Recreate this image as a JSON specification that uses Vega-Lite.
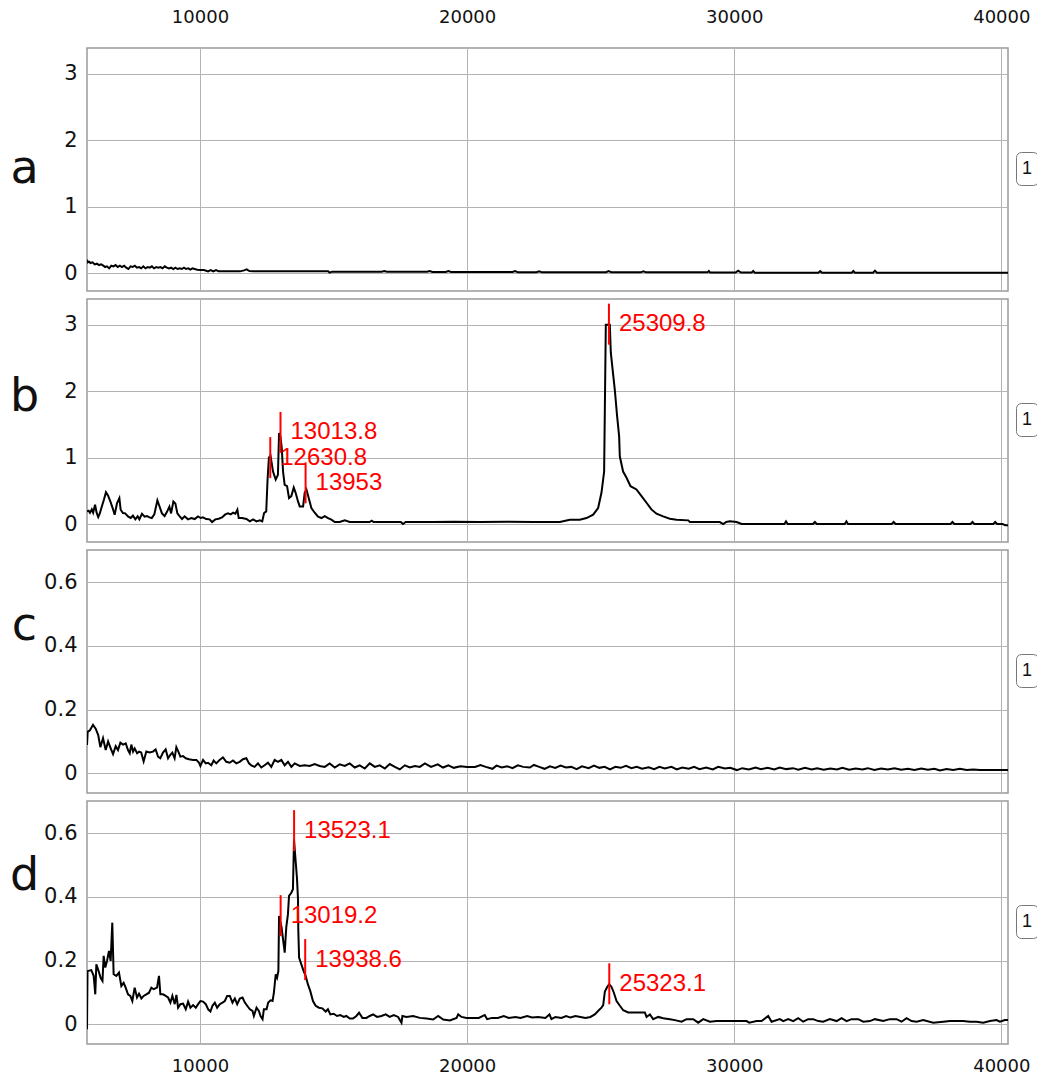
{
"$schema": "https://vega.github.io/schema/vega-lite/v6.json",
"padding": {"left": 8, "top": 7, "right": 0, "bottom": 0},
"spacing": 6,
"config": {
  "view": {"stroke": "#9a9a9a", "strokeWidth": 1.5},
  "font": "Liberation Sans",
  "axis": {"gridColor": "#b3b3b3", "gridWidth": 1, "gridOpacity": 1, "labelColor": "#111", "labelFont": "DejaVu Sans", "ticks": false, "tickSize": 0, "domain": false},
  "legend": {"orient": "none", "legendX": 929, "legendY": 104, "title": null, "labelFontSize": 18, "labelFont": "Liberation Sans", "labelColor": "#111", "symbolType": "M-0.6,-1L-0.6,1", "symbolOpacity": 0, "symbolSize": 500, "symbolStrokeWidth": 0, "labelOffset": -22, "padding": 5, "strokeColor": "#777", "cornerRadius": 5, "fillColor": "white"}
},
"datasets": {
  "a": [{"mz":5770,"v":0.2},{"mz":5800,"v":0.16},{"mz":5850,"v":0.17},{"mz":5900,"v":0.15},{"mz":5980,"v":0.16},{"mz":6060,"v":0.13},{"mz":6140,"v":0.14},{"mz":6220,"v":0.12},{"mz":6300,"v":0.13},{"mz":6380,"v":0.11},{"mz":6450,"v":0.09},{"mz":6520,"v":0.1},{"mz":6600,"v":0.07},{"mz":6680,"v":0.11},{"mz":6760,"v":0.1},{"mz":6840,"v":0.12},{"mz":6920,"v":0.09},{"mz":7000,"v":0.11},{"mz":7080,"v":0.09},{"mz":7160,"v":0.11},{"mz":7240,"v":0.08},{"mz":7320,"v":0.06},{"mz":7400,"v":0.1},{"mz":7480,"v":0.09},{"mz":7560,"v":0.11},{"mz":7640,"v":0.08},{"mz":7720,"v":0.09},{"mz":7800,"v":0.07},{"mz":7880,"v":0.1},{"mz":7960,"v":0.07},{"mz":8040,"v":0.09},{"mz":8120,"v":0.08},{"mz":8200,"v":0.1},{"mz":8280,"v":0.07},{"mz":8360,"v":0.09},{"mz":8440,"v":0.08},{"mz":8520,"v":0.09},{"mz":8600,"v":0.07},{"mz":8680,"v":0.1},{"mz":8760,"v":0.08},{"mz":8840,"v":0.07},{"mz":8920,"v":0.08},{"mz":9000,"v":0.06},{"mz":9080,"v":0.08},{"mz":9160,"v":0.06},{"mz":9240,"v":0.07},{"mz":9320,"v":0.06},{"mz":9400,"v":0.08},{"mz":9480,"v":0.06},{"mz":9560,"v":0.07},{"mz":9640,"v":0.05},{"mz":9720,"v":0.07},{"mz":9800,"v":0.06},{"mz":9900,"v":0.05},{"mz":10000,"v":0.045},{"mz":10150,"v":0.045},{"mz":10300,"v":0.025},{"mz":10400,"v":0.045},{"mz":10500,"v":0.025},{"mz":10600,"v":0.045},{"mz":10700,"v":0.025},{"mz":10900,"v":0.025},{"mz":11200,"v":0.025},{"mz":11500,"v":0.025},{"mz":11650,"v":0.04},{"mz":11750,"v":0.055},{"mz":11850,"v":0.03},{"mz":12000,"v":0.025},{"mz":13000,"v":0.025},{"mz":14000,"v":0.025},{"mz":14800,"v":0.025},{"mz":14850,"v":0.005},{"mz":14950,"v":0.02},{"mz":15500,"v":0.02},{"mz":16800,"v":0.02},{"mz":16900,"v":0.03},{"mz":17000,"v":0.02},{"mz":18500,"v":0.02},{"mz":18600,"v":0.03},{"mz":18700,"v":0.015},{"mz":19200,"v":0.015},{"mz":19300,"v":0.03},{"mz":19400,"v":0.015},{"mz":20000,"v":0.015},{"mz":21000,"v":0.015},{"mz":21700,"v":0.015},{"mz":21800,"v":0.03},{"mz":21900,"v":0.01},{"mz":22600,"v":0.012},{"mz":22700,"v":0.025},{"mz":22800,"v":0.01},{"mz":24000,"v":0.012},{"mz":25200,"v":0.012},{"mz":25300,"v":0.03},{"mz":25400,"v":0.01},{"mz":26500,"v":0.01},{"mz":26600,"v":0.025},{"mz":26700,"v":0.01},{"mz":28000,"v":0.01},{"mz":29000,"v":0.01},{"mz":29050,"v":0.03},{"mz":29100,"v":0.006},{"mz":30050,"v":0.006},{"mz":30150,"v":0.035},{"mz":30250,"v":0.006},{"mz":30650,"v":0.006},{"mz":30710,"v":0.03},{"mz":30770,"v":0.005},{"mz":33150,"v":0.005},{"mz":33220,"v":0.03},{"mz":33290,"v":0.005},{"mz":34400,"v":0.005},{"mz":34460,"v":0.03},{"mz":34520,"v":0.005},{"mz":35200,"v":0.005},{"mz":35270,"v":0.035},{"mz":35340,"v":0.005},{"mz":40250,"v":0.005}],
  "b": [{"mz":5770,"v":0.19},{"mz":5830,"v":0.2},{"mz":5880,"v":0.17},{"mz":5950,"v":0.22},{"mz":6000,"v":0.17},{"mz":6072,"v":0.29},{"mz":6130,"v":0.17},{"mz":6190,"v":0.105},{"mz":6250,"v":0.16},{"mz":6300,"v":0.23},{"mz":6405,"v":0.37},{"mz":6480,"v":0.48},{"mz":6555,"v":0.43},{"mz":6644,"v":0.34},{"mz":6730,"v":0.24},{"mz":6805,"v":0.14},{"mz":6892,"v":0.31},{"mz":6982,"v":0.39},{"mz":7030,"v":0.215},{"mz":7116,"v":0.165},{"mz":7200,"v":0.16},{"mz":7304,"v":0.115},{"mz":7405,"v":0.09},{"mz":7490,"v":0.125},{"mz":7580,"v":0.07},{"mz":7665,"v":0.115},{"mz":7730,"v":0.07},{"mz":7828,"v":0.155},{"mz":7925,"v":0.11},{"mz":8015,"v":0.12},{"mz":8110,"v":0.1},{"mz":8195,"v":0.09},{"mz":8290,"v":0.145},{"mz":8405,"v":0.355},{"mz":8490,"v":0.26},{"mz":8575,"v":0.16},{"mz":8675,"v":0.12},{"mz":8760,"v":0.18},{"mz":8855,"v":0.26},{"mz":8918,"v":0.16},{"mz":9004,"v":0.34},{"mz":9078,"v":0.31},{"mz":9153,"v":0.16},{"mz":9240,"v":0.115},{"mz":9328,"v":0.075},{"mz":9425,"v":0.115},{"mz":9550,"v":0.07},{"mz":9675,"v":0.09},{"mz":9800,"v":0.075},{"mz":9925,"v":0.115},{"mz":10025,"v":0.09},{"mz":10110,"v":0.1},{"mz":10235,"v":0.075},{"mz":10360,"v":0.07},{"mz":10450,"v":0.03},{"mz":10575,"v":0.07},{"mz":10700,"v":0.08},{"mz":10825,"v":0.1},{"mz":10950,"v":0.145},{"mz":11050,"v":0.16},{"mz":11150,"v":0.145},{"mz":11240,"v":0.17},{"mz":11325,"v":0.155},{"mz":11400,"v":0.215},{"mz":11450,"v":0.09},{"mz":11575,"v":0.09},{"mz":11740,"v":0.075},{"mz":11865,"v":0.04},{"mz":11990,"v":0.07},{"mz":12115,"v":0.04},{"mz":12240,"v":0.055},{"mz":12330,"v":0.04},{"mz":12400,"v":0.165},{"mz":12480,"v":0.19},{"mz":12530,"v":0.67},{"mz":12580,"v":1.0},{"mz":12640,"v":1.03},{"mz":12734,"v":0.79},{"mz":12835,"v":0.67},{"mz":12918,"v":0.74},{"mz":12960,"v":1.37},{"mz":13010,"v":1.32},{"mz":13060,"v":1.15},{"mz":13110,"v":0.79},{"mz":13170,"v":0.59},{"mz":13260,"v":0.57},{"mz":13333,"v":0.39},{"mz":13420,"v":0.42},{"mz":13510,"v":0.55},{"mz":13580,"v":0.47},{"mz":13670,"v":0.34},{"mz":13734,"v":0.265},{"mz":13860,"v":0.265},{"mz":13920,"v":0.47},{"mz":13985,"v":0.52},{"mz":14085,"v":0.37},{"mz":14170,"v":0.24},{"mz":14295,"v":0.17},{"mz":14420,"v":0.11},{"mz":14545,"v":0.09},{"mz":14670,"v":0.12},{"mz":14795,"v":0.09},{"mz":14920,"v":0.065},{"mz":15045,"v":0.03},{"mz":15230,"v":0.03},{"mz":15420,"v":0.055},{"mz":15605,"v":0.03},{"mz":16350,"v":0.03},{"mz":16430,"v":0.05},{"mz":16500,"v":0.03},{"mz":17520,"v":0.03},{"mz":17600,"v":0.0},{"mz":17700,"v":0.03},{"mz":18700,"v":0.03},{"mz":19500,"v":0.035},{"mz":20500,"v":0.03},{"mz":21500,"v":0.035},{"mz":22500,"v":0.03},{"mz":23471,"v":0.03},{"mz":23845,"v":0.065},{"mz":24220,"v":0.065},{"mz":24470,"v":0.09},{"mz":24720,"v":0.14},{"mz":24905,"v":0.24},{"mz":25030,"v":0.47},{"mz":25130,"v":0.79},{"mz":25193,"v":3.0},{"mz":25343,"v":3.0},{"mz":25380,"v":2.58},{"mz":25530,"v":2.02},{"mz":25617,"v":1.62},{"mz":25692,"v":1.32},{"mz":25717,"v":1.02},{"mz":25840,"v":0.79},{"mz":25965,"v":0.7},{"mz":26118,"v":0.57},{"mz":26340,"v":0.52},{"mz":26530,"v":0.42},{"mz":26717,"v":0.32},{"mz":26900,"v":0.22},{"mz":27090,"v":0.155},{"mz":27340,"v":0.115},{"mz":27590,"v":0.08},{"mz":27840,"v":0.065},{"mz":28280,"v":0.055},{"mz":28340,"v":0.03},{"mz":29460,"v":0.03},{"mz":29590,"v":0.0},{"mz":29700,"v":0.03},{"mz":29840,"v":0.04},{"mz":30090,"v":0.03},{"mz":30280,"v":0.0},{"mz":31880,"v":0.0},{"mz":31940,"v":0.04},{"mz":32000,"v":0.0},{"mz":32950,"v":0.0},{"mz":33020,"v":0.03},{"mz":33090,"v":0.0},{"mz":34140,"v":0.0},{"mz":34200,"v":0.04},{"mz":34260,"v":0.0},{"mz":35900,"v":0.0},{"mz":35970,"v":0.03},{"mz":36040,"v":0.0},{"mz":38100,"v":0.0},{"mz":38170,"v":0.03},{"mz":38240,"v":0.0},{"mz":38850,"v":0.0},{"mz":38920,"v":0.03},{"mz":38990,"v":0.0},{"mz":39700,"v":0.0},{"mz":39770,"v":0.03},{"mz":39840,"v":0.0},{"mz":40050,"v":0.0},{"mz":40150,"v":-0.02},{"mz":40250,"v":-0.02}],
  "c": [{"mz":5770,"v":0.089},{"mz":5795,"v":0.13},{"mz":5880,"v":0.135},{"mz":5995,"v":0.152},{"mz":6095,"v":0.14},{"mz":6190,"v":0.12},{"mz":6270,"v":0.082},{"mz":6370,"v":0.11},{"mz":6470,"v":0.073},{"mz":6560,"v":0.1},{"mz":6650,"v":0.08},{"mz":6745,"v":0.06},{"mz":6845,"v":0.085},{"mz":6930,"v":0.073},{"mz":7020,"v":0.096},{"mz":7120,"v":0.09},{"mz":7220,"v":0.094},{"mz":7305,"v":0.073},{"mz":7370,"v":0.063},{"mz":7430,"v":0.09},{"mz":7495,"v":0.068},{"mz":7555,"v":0.078},{"mz":7645,"v":0.063},{"mz":7720,"v":0.068},{"mz":7800,"v":0.065},{"mz":7890,"v":0.037},{"mz":7990,"v":0.068},{"mz":8115,"v":0.065},{"mz":8240,"v":0.068},{"mz":8340,"v":0.075},{"mz":8430,"v":0.052},{"mz":8515,"v":0.047},{"mz":8615,"v":0.065},{"mz":8715,"v":0.075},{"mz":8805,"v":0.047},{"mz":8890,"v":0.058},{"mz":8965,"v":0.065},{"mz":9050,"v":0.047},{"mz":9115,"v":0.082},{"mz":9190,"v":0.068},{"mz":9265,"v":0.052},{"mz":9365,"v":0.054},{"mz":9465,"v":0.047},{"mz":9590,"v":0.044},{"mz":9740,"v":0.042},{"mz":9865,"v":0.042},{"mz":9965,"v":0.033},{"mz":10015,"v":0.023},{"mz":10115,"v":0.042},{"mz":10215,"v":0.031},{"mz":10300,"v":0.033},{"mz":10425,"v":0.025},{"mz":10510,"v":0.04},{"mz":10610,"v":0.031},{"mz":10735,"v":0.042},{"mz":10860,"v":0.05},{"mz":10985,"v":0.036},{"mz":11110,"v":0.033},{"mz":11235,"v":0.04},{"mz":11360,"v":0.031},{"mz":11485,"v":0.036},{"mz":11610,"v":0.044},{"mz":11735,"v":0.047},{"mz":11835,"v":0.031},{"mz":11920,"v":0.025},{"mz":12045,"v":0.02},{"mz":12170,"v":0.031},{"mz":12295,"v":0.018},{"mz":12420,"v":0.025},{"mz":12545,"v":0.033},{"mz":12670,"v":0.02},{"mz":12795,"v":0.042},{"mz":12920,"v":0.036},{"mz":13045,"v":0.042},{"mz":13170,"v":0.025},{"mz":13295,"v":0.036},{"mz":13420,"v":0.02},{"mz":13545,"v":0.031},{"mz":13735,"v":0.023},{"mz":13920,"v":0.025},{"mz":14105,"v":0.023},{"mz":14295,"v":0.029},{"mz":14480,"v":0.023},{"mz":14670,"v":0.02},{"mz":14855,"v":0.031},{"mz":15045,"v":0.018},{"mz":15230,"v":0.028},{"mz":15420,"v":0.023},{"mz":15605,"v":0.031},{"mz":15795,"v":0.018},{"mz":15980,"v":0.025},{"mz":16170,"v":0.015},{"mz":16355,"v":0.031},{"mz":16545,"v":0.02},{"mz":16730,"v":0.025},{"mz":16920,"v":0.015},{"mz":17105,"v":0.029},{"mz":17295,"v":0.02},{"mz":17480,"v":0.012},{"mz":17670,"v":0.025},{"mz":17855,"v":0.018},{"mz":18045,"v":0.023},{"mz":18230,"v":0.02},{"mz":18420,"v":0.031},{"mz":18650,"v":0.02},{"mz":18900,"v":0.028},{"mz":19100,"v":0.018},{"mz":19300,"v":0.025},{"mz":19500,"v":0.017},{"mz":19750,"v":0.022},{"mz":20000,"v":0.02},{"mz":20300,"v":0.02},{"mz":20500,"v":0.026},{"mz":20700,"v":0.02},{"mz":20950,"v":0.014},{"mz":21100,"v":0.024},{"mz":21300,"v":0.018},{"mz":21500,"v":0.022},{"mz":21700,"v":0.016},{"mz":21900,"v":0.025},{"mz":22100,"v":0.02},{"mz":22350,"v":0.018},{"mz":22500,"v":0.026},{"mz":22700,"v":0.02},{"mz":22900,"v":0.014},{"mz":23100,"v":0.022},{"mz":23300,"v":0.017},{"mz":23500,"v":0.024},{"mz":23700,"v":0.018},{"mz":23900,"v":0.02},{"mz":24100,"v":0.013},{"mz":24300,"v":0.022},{"mz":24550,"v":0.016},{"mz":24750,"v":0.024},{"mz":24950,"v":0.017},{"mz":25150,"v":0.02},{"mz":25350,"v":0.012},{"mz":25550,"v":0.02},{"mz":25750,"v":0.017},{"mz":25950,"v":0.023},{"mz":26150,"v":0.016},{"mz":26350,"v":0.02},{"mz":26550,"v":0.014},{"mz":26800,"v":0.019},{"mz":27000,"v":0.013},{"mz":27200,"v":0.02},{"mz":27400,"v":0.015},{"mz":27650,"v":0.02},{"mz":27850,"v":0.012},{"mz":28050,"v":0.018},{"mz":28300,"v":0.014},{"mz":28500,"v":0.02},{"mz":28700,"v":0.013},{"mz":28950,"v":0.018},{"mz":29200,"v":0.012},{"mz":29400,"v":0.02},{"mz":29650,"v":0.015},{"mz":29850,"v":0.017},{"mz":30100,"v":0.01},{"mz":30300,"v":0.016},{"mz":30550,"v":0.012},{"mz":30800,"v":0.018},{"mz":31000,"v":0.013},{"mz":31250,"v":0.017},{"mz":31500,"v":0.012},{"mz":31700,"v":0.018},{"mz":31950,"v":0.013},{"mz":32200,"v":0.016},{"mz":32400,"v":0.011},{"mz":32650,"v":0.017},{"mz":32900,"v":0.012},{"mz":33100,"v":0.016},{"mz":33350,"v":0.011},{"mz":33600,"v":0.015},{"mz":33850,"v":0.012},{"mz":34050,"v":0.017},{"mz":34300,"v":0.011},{"mz":34550,"v":0.015},{"mz":34800,"v":0.012},{"mz":35000,"v":0.016},{"mz":35250,"v":0.01},{"mz":35500,"v":0.015},{"mz":35750,"v":0.012},{"mz":36000,"v":0.016},{"mz":36250,"v":0.011},{"mz":36500,"v":0.014},{"mz":36750,"v":0.01},{"mz":37000,"v":0.015},{"mz":37250,"v":0.011},{"mz":37500,"v":0.014},{"mz":37700,"v":0.009},{"mz":37950,"v":0.013},{"mz":38200,"v":0.01},{"mz":38450,"v":0.014},{"mz":38700,"v":0.01},{"mz":38950,"v":0.012},{"mz":39200,"v":0.01},{"mz":39500,"v":0.01},{"mz":39800,"v":0.01},{"mz":40250,"v":0.01}],
  "d": [{"mz":5770,"v":-0.016},{"mz":5790,"v":0.167},{"mz":5930,"v":0.17},{"mz":6020,"v":0.152},{"mz":6080,"v":0.094},{"mz":6120,"v":0.188},{"mz":6205,"v":0.167},{"mz":6280,"v":0.146},{"mz":6350,"v":0.136},{"mz":6394,"v":0.215},{"mz":6455,"v":0.178},{"mz":6520,"v":0.199},{"mz":6592,"v":0.23},{"mz":6655,"v":0.199},{"mz":6717,"v":0.319},{"mz":6767,"v":0.157},{"mz":6867,"v":0.152},{"mz":6967,"v":0.162},{"mz":7055,"v":0.12},{"mz":7142,"v":0.13},{"mz":7217,"v":0.115},{"mz":7305,"v":0.094},{"mz":7392,"v":0.089},{"mz":7467,"v":0.073},{"mz":7555,"v":0.115},{"mz":7642,"v":0.084},{"mz":7717,"v":0.096},{"mz":7805,"v":0.081},{"mz":7892,"v":0.089},{"mz":7992,"v":0.094},{"mz":8092,"v":0.099},{"mz":8180,"v":0.115},{"mz":8267,"v":0.11},{"mz":8392,"v":0.115},{"mz":8465,"v":0.152},{"mz":8517,"v":0.094},{"mz":8617,"v":0.094},{"mz":8717,"v":0.089},{"mz":8805,"v":0.084},{"mz":8892,"v":0.068},{"mz":8967,"v":0.089},{"mz":9055,"v":0.063},{"mz":9117,"v":0.092},{"mz":9180,"v":0.052},{"mz":9267,"v":0.063},{"mz":9367,"v":0.065},{"mz":9467,"v":0.047},{"mz":9555,"v":0.071},{"mz":9642,"v":0.052},{"mz":9742,"v":0.06},{"mz":9842,"v":0.052},{"mz":9930,"v":0.063},{"mz":10017,"v":0.073},{"mz":10117,"v":0.071},{"mz":10217,"v":0.063},{"mz":10305,"v":0.047},{"mz":10392,"v":0.04},{"mz":10467,"v":0.058},{"mz":10555,"v":0.068},{"mz":10642,"v":0.052},{"mz":10742,"v":0.063},{"mz":10842,"v":0.068},{"mz":10930,"v":0.073},{"mz":11017,"v":0.089},{"mz":11117,"v":0.089},{"mz":11217,"v":0.068},{"mz":11305,"v":0.081},{"mz":11392,"v":0.063},{"mz":11492,"v":0.081},{"mz":11592,"v":0.084},{"mz":11680,"v":0.068},{"mz":11767,"v":0.058},{"mz":11867,"v":0.047},{"mz":11967,"v":0.042},{"mz":12017,"v":0.026},{"mz":12117,"v":0.052},{"mz":12205,"v":0.042},{"mz":12267,"v":0.026},{"mz":12342,"v":0.016},{"mz":12392,"v":0.047},{"mz":12492,"v":0.047},{"mz":12555,"v":0.068},{"mz":12642,"v":0.075},{"mz":12717,"v":0.073},{"mz":12767,"v":0.099},{"mz":12835,"v":0.157},{"mz":12885,"v":0.146},{"mz":12935,"v":0.167},{"mz":12960,"v":0.34},{"mz":13055,"v":0.304},{"mz":13117,"v":0.262},{"mz":13172,"v":0.225},{"mz":13230,"v":0.304},{"mz":13292,"v":0.345},{"mz":13333,"v":0.403},{"mz":13420,"v":0.413},{"mz":13480,"v":0.424},{"mz":13520,"v":0.58},{"mz":13546,"v":0.55},{"mz":13630,"v":0.46},{"mz":13670,"v":0.392},{"mz":13680,"v":0.298},{"mz":13710,"v":0.209},{"mz":13795,"v":0.188},{"mz":13880,"v":0.167},{"mz":13955,"v":0.152},{"mz":14042,"v":0.125},{"mz":14130,"v":0.104},{"mz":14230,"v":0.073},{"mz":14330,"v":0.058},{"mz":14455,"v":0.052},{"mz":14580,"v":0.05},{"mz":14705,"v":0.04},{"mz":14790,"v":0.047},{"mz":14880,"v":0.031},{"mz":15005,"v":0.033},{"mz":15130,"v":0.026},{"mz":15255,"v":0.029},{"mz":15380,"v":0.023},{"mz":15480,"v":0.026},{"mz":15605,"v":0.018},{"mz":15730,"v":0.018},{"mz":15855,"v":0.026},{"mz":15955,"v":0.036},{"mz":16080,"v":0.02},{"mz":16230,"v":0.02},{"mz":16355,"v":0.026},{"mz":16480,"v":0.031},{"mz":16630,"v":0.023},{"mz":16793,"v":0.026},{"mz":16955,"v":0.031},{"mz":17105,"v":0.023},{"mz":17255,"v":0.029},{"mz":17418,"v":0.023},{"mz":17543,"v":0.005},{"mz":17580,"v":0.026},{"mz":17730,"v":0.023},{"mz":17980,"v":0.026},{"mz":18230,"v":0.02},{"mz":18480,"v":0.018},{"mz":18730,"v":0.015},{"mz":18917,"v":0.026},{"mz":19105,"v":0.015},{"mz":19355,"v":0.012},{"mz":19605,"v":0.02},{"mz":19667,"v":0.031},{"mz":19792,"v":0.023},{"mz":19980,"v":0.02},{"mz":20187,"v":0.02},{"mz":20437,"v":0.02},{"mz":20660,"v":0.029},{"mz":20750,"v":0.016},{"mz":20936,"v":0.02},{"mz":21150,"v":0.02},{"mz":21373,"v":0.026},{"mz":21560,"v":0.02},{"mz":21810,"v":0.023},{"mz":22000,"v":0.02},{"mz":22246,"v":0.026},{"mz":22434,"v":0.021},{"mz":22658,"v":0.023},{"mz":22933,"v":0.02},{"mz":23083,"v":0.031},{"mz":23158,"v":0.016},{"mz":23307,"v":0.023},{"mz":23532,"v":0.02},{"mz":23707,"v":0.026},{"mz":23870,"v":0.021},{"mz":24056,"v":0.026},{"mz":24243,"v":0.023},{"mz":24430,"v":0.02},{"mz":24618,"v":0.023},{"mz":24780,"v":0.031},{"mz":24930,"v":0.044},{"mz":25030,"v":0.052},{"mz":25095,"v":0.06},{"mz":25158,"v":0.103},{"mz":25245,"v":0.117},{"mz":25320,"v":0.126},{"mz":25407,"v":0.117},{"mz":25495,"v":0.099},{"mz":25595,"v":0.073},{"mz":25720,"v":0.058},{"mz":25844,"v":0.044},{"mz":26031,"v":0.037},{"mz":26468,"v":0.037},{"mz":26655,"v":0.037},{"mz":26718,"v":0.023},{"mz":26843,"v":0.031},{"mz":26967,"v":0.016},{"mz":27155,"v":0.023},{"mz":27342,"v":0.019},{"mz":27592,"v":0.016},{"mz":27779,"v":0.013},{"mz":28029,"v":0.008},{"mz":28216,"v":0.016},{"mz":28466,"v":0.016},{"mz":28653,"v":0.005},{"mz":28840,"v":0.016},{"mz":29090,"v":0.008},{"mz":29339,"v":0.01},{"mz":29713,"v":0.01},{"mz":30087,"v":0.01},{"mz":30462,"v":0.01},{"mz":30562,"v":0.005},{"mz":30836,"v":0.01},{"mz":31023,"v":0.01},{"mz":31273,"v":0.026},{"mz":31398,"v":0.008},{"mz":31710,"v":0.016},{"mz":31835,"v":0.01},{"mz":32022,"v":0.016},{"mz":32209,"v":0.01},{"mz":32396,"v":0.019},{"mz":32583,"v":0.008},{"mz":32770,"v":0.016},{"mz":32958,"v":0.016},{"mz":33145,"v":0.01},{"mz":33332,"v":0.008},{"mz":33582,"v":0.016},{"mz":33831,"v":0.01},{"mz":34019,"v":0.019},{"mz":34206,"v":0.01},{"mz":34393,"v":0.016},{"mz":34643,"v":0.016},{"mz":34830,"v":0.008},{"mz":35079,"v":0.01},{"mz":35266,"v":0.016},{"mz":35578,"v":0.01},{"mz":35828,"v":0.016},{"mz":36078,"v":0.016},{"mz":36265,"v":0.008},{"mz":36452,"v":0.019},{"mz":36640,"v":0.01},{"mz":36827,"v":0.008},{"mz":37076,"v":0.013},{"mz":37451,"v":0.005},{"mz":37825,"v":0.008},{"mz":38075,"v":0.01},{"mz":38574,"v":0.01},{"mz":38824,"v":0.008},{"mz":39073,"v":0.008},{"mz":39323,"v":0.005},{"mz":39573,"v":0.01},{"mz":39822,"v":0.013},{"mz":39947,"v":0.008},{"mz":40134,"v":0.013},{"mz":40250,"v":0.013}],
  "pb": [{"mz":12630.8,"v":1.0,"label":"12630.8"},{"mz":13013.8,"v":1.38,"label":"13013.8"},{"mz":13953,"v":0.62,"label":"13953"},{"mz":25309.8,"v":3.01,"label":"25309.8"}],
  "pd": [{"mz":13019.2,"v":0.341,"label":"13019.2"},{"mz":13523.1,"v":0.608,"label":"13523.1"},{"mz":13938.6,"v":0.203,"label":"13938.6"},{"mz":25323.1,"v":0.127,"label":"25323.1"}]
},
"vconcat": [
  {
    "width": 921, "height": 243,
    "data": {"name": "a"},
    "mark": {"type": "line", "strokeWidth": 2, "clip": true},
    "encoding": {
      "x": {"field": "mz", "type": "quantitative", "scale": {"domain": [5770, 40250], "nice": false, "zero": false}, "axis": {"orient": "top", "values": [10000, 20000, 30000, 40000], "format": "d", "title": null, "labelFontSize": 18, "labelPadding": 22, "grid": true}},
      "y": {"field": "v", "type": "quantitative", "scale": {"domain": [-0.271, 3.389], "nice": false, "zero": false}, "axis": {"values": [0, 1, 2, 3], "format": "~g", "labelFontSize": 21, "labelPadding": 10, "grid": true, "title": "a", "titleAngle": 0, "titleX": -63, "titleY": 134, "titleAlign": "center", "titleBaseline": "alphabetic", "titleFontSize": 46, "titleFont": "DejaVu Sans", "titleFontWeight": "normal", "titleColor": "#111"}},
      "color": {"datum": "1", "type": "nominal", "scale": {"range": ["black"]}, "legend": {"labelFontSize": 18, "labelOffset": -22, "padding": 5, "symbolType": "M-0.6,-1L-0.6,1", "symbolSize": 500, "symbolOpacity": 0, "symbolStrokeWidth": 0}}
    }
  },
  {
    "width": 921, "height": 243,
    "encoding": {
      "x": {"field": "mz", "type": "quantitative", "scale": {"domain": [5770, 40250], "nice": false, "zero": false}, "axis": {"orient": "bottom", "values": [10000, 20000, 30000, 40000], "labels": false, "title": null, "grid": true}},
      "y": {"field": "v", "type": "quantitative", "scale": {"domain": [-0.271, 3.389], "nice": false, "zero": false}, "axis": {"values": [0, 1, 2, 3], "format": "~g", "labelFontSize": 21, "labelPadding": 10, "grid": true, "title": "b", "titleAngle": 0, "titleX": -63, "titleY": 111, "titleAlign": "center", "titleBaseline": "alphabetic", "titleFontSize": 46, "titleFont": "DejaVu Sans", "titleFontWeight": "normal", "titleColor": "#111"}}
    },
    "layer": [
      {"data": {"name": "b"}, "mark": {"type": "line", "strokeWidth": 2, "clip": true}, "encoding": {"color": {"datum": "1", "type": "nominal", "scale": {"range": ["black"]}, "legend": {"labelFontSize": 18, "labelOffset": -22, "padding": 5, "symbolType": "M-0.6,-1L-0.6,1", "symbolSize": 500, "symbolOpacity": 0, "symbolStrokeWidth": 0}}}},
      {"data": {"name": "pb"}, "mark": {"type": "tick", "orient": "vertical", "size": 41, "thickness": 2, "color": "#ff0000", "opacity": 1}},
      {"data": {"name": "pb"}, "mark": {"type": "text", "align": "left", "baseline": "middle", "dx": 10, "fontSize": 24, "font": "Liberation Sans", "color": "#ff0000"}, "encoding": {"text": {"field": "label"}}}
    ]
  },
  {
    "width": 921, "height": 243,
    "data": {"name": "c"},
    "mark": {"type": "line", "strokeWidth": 2, "clip": true},
    "encoding": {
      "x": {"field": "mz", "type": "quantitative", "scale": {"domain": [5770, 40250], "nice": false, "zero": false}, "axis": {"orient": "bottom", "values": [10000, 20000, 30000, 40000], "labels": false, "title": null, "grid": true}},
      "y": {"field": "v", "type": "quantitative", "scale": {"domain": [-0.062, 0.701], "nice": false, "zero": false}, "axis": {"values": [0, 0.2, 0.4, 0.6], "format": "~g", "labelFontSize": 21, "labelPadding": 10, "grid": true, "title": "c", "titleAngle": 0, "titleX": -63, "titleY": 89, "titleAlign": "center", "titleBaseline": "alphabetic", "titleFontSize": 46, "titleFont": "DejaVu Sans", "titleFontWeight": "normal", "titleColor": "#111"}},
      "color": {"datum": "1", "type": "nominal", "scale": {"range": ["black"]}, "legend": {"labelFontSize": 18, "labelOffset": -22, "padding": 5, "symbolType": "M-0.6,-1L-0.6,1", "symbolSize": 500, "symbolOpacity": 0, "symbolStrokeWidth": 0}}
    }
  },
  {
    "width": 921, "height": 243,
    "encoding": {
      "x": {"field": "mz", "type": "quantitative", "scale": {"domain": [5770, 40250], "nice": false, "zero": false}, "axis": {"orient": "bottom", "values": [10000, 20000, 30000, 40000], "format": "d", "title": null, "labelFontSize": 18, "labelPadding": 13, "grid": true}},
      "y": {"field": "v", "type": "quantitative", "scale": {"domain": [-0.062, 0.701], "nice": false, "zero": false}, "axis": {"values": [0, 0.2, 0.4, 0.6], "format": "~g", "labelFontSize": 21, "labelPadding": 10, "grid": true, "title": "d", "titleAngle": 0, "titleX": -63, "titleY": 88, "titleAlign": "center", "titleBaseline": "alphabetic", "titleFontSize": 46, "titleFont": "DejaVu Sans", "titleFontWeight": "normal", "titleColor": "#111"}}
    },
    "layer": [
      {"data": {"name": "d"}, "mark": {"type": "line", "strokeWidth": 2, "clip": true}, "encoding": {"color": {"datum": "1", "type": "nominal", "scale": {"range": ["black"]}, "legend": {"labelFontSize": 18, "labelOffset": -22, "padding": 5, "symbolType": "M-0.6,-1L-0.6,1", "symbolSize": 500, "symbolOpacity": 0, "symbolStrokeWidth": 0}}}},
      {"data": {"name": "pd"}, "mark": {"type": "tick", "orient": "vertical", "size": 41, "thickness": 2, "color": "#ff0000", "opacity": 1}},
      {"data": {"name": "pd"}, "mark": {"type": "text", "align": "left", "baseline": "middle", "dx": 10, "fontSize": 24, "font": "Liberation Sans", "color": "#ff0000"}, "encoding": {"text": {"field": "label"}}}
    ]
  }
],
"resolve": {"scale": {"x": "independent", "y": "independent", "color": "independent"}, "axis": {"x": "independent", "y": "independent"}, "legend": {"color": "independent"}}
}
